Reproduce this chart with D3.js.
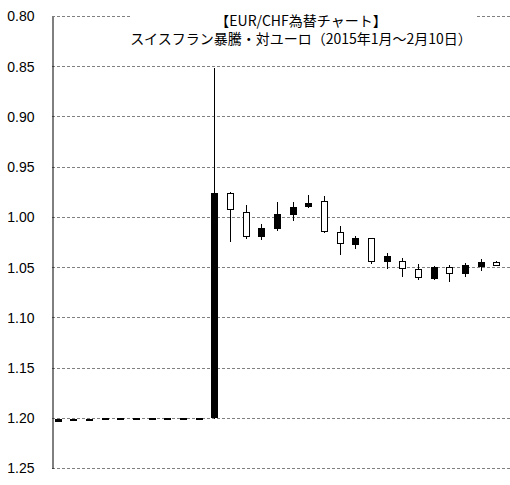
<!DOCTYPE html>
<html lang="ja">
<head>
    <meta charset="UTF-8">
    <title>EUR/CHF</title>
    <script src="https://d3js.org/d3.v7.min.js"></script>
</head>
<style>
    html, body {
        margin: 0;
        padding: 0;
        background: #fff;
    }
    svg text {
        fill: #000;
    }
</style>
<body>
<svg id="chart" width="510" height="485"></svg>

<script>
    // trading days, Jan 1 - Feb 10 2015
    var dates = ['1/1', '1/2', '1/5', '1/6', '1/7', '1/8', '1/9', '1/12', '1/13', '1/14',
        '1/15', '1/16', '1/19', '1/20', '1/21', '1/22', '1/23', '1/26', '1/27', '1/28',
        '1/29', '1/30', '2/2', '2/3', '2/4', '2/5', '2/6', '2/9', '2/10']
    var opens = [1.2035, 1.2020, 1.2018, 1.2020, 1.2020, 1.2020, 1.2020, 1.2020, 1.2020, 1.2020,
        1.2000, 0.9765, 0.9955, 1.0197, 1.0114, 0.9974, 0.9892, 0.9845, 1.0154, 1.0270,
        1.0213, 1.0446, 1.0446, 1.0522, 1.0611, 1.0502, 1.0562, 1.0496, 1.0452]
    var highs = [1.2038, 1.2028, 1.2025, 1.2022, 1.2022, 1.2022, 1.2022, 1.2022, 1.2022, 1.2022,
        1.2010, 1.0253, 1.0217, 1.0230, 1.0138, 1.0038, 0.9915, 1.0164, 1.0383, 1.0323,
        1.0469, 1.0522, 1.0596, 1.0628, 1.0628, 1.0644, 1.0602, 1.0536, 1.0482]
    var lows = [1.2018, 1.2015, 1.2010, 1.2003, 1.2003, 1.2003, 1.2003, 1.2003, 1.2003, 1.2003,
        0.8518, 0.9755, 0.9880, 1.0070, 0.9855, 0.9855, 0.9780, 0.9790, 1.0090, 1.0187,
        1.0213, 1.0362, 1.0412, 1.0472, 1.0490, 1.0480, 1.0462, 1.0419, 1.0436]
    var closes = [1.2022, 1.2022, 1.2016, 1.2005, 1.2005, 1.2005, 1.2005, 1.2005, 1.2005, 1.2005,
        0.9765, 0.9930, 1.0197, 1.0120, 0.9980, 0.9905, 0.9865, 1.0148, 1.0263, 1.0213,
        1.0446, 1.0396, 1.0512, 1.0602, 1.0502, 1.0562, 1.0486, 1.0452, 1.0479]
    var yTicks = [0.80, 0.85, 0.90, 0.95, 1.00, 1.05, 1.10, 1.15, 1.20, 1.25]
    var titleLines = ['【EUR/CHF為替チャート】', 'スイスフラン暴騰・対ユーロ（2015年1月～2月10日）']

    var svg = d3.select('#chart')
    var plotL = 52, plotR = 510, plotT = 16, plotB = 468

    var x = d3.scaleBand().domain(dates).range([50, 504])
    // axis runs upside down: 0.80 at the top
    var y = d3.scaleLinear().domain([0.80, 1.25]).range([plotT, plotB])

    // gridlines
    svg.append('g')
        .selectAll('line')
        .data(yTicks)
        .enter().append('line')
        .attr('x1', plotL)
        .attr('x2', plotR)
        .attr('y1', function (d) { return Math.round(y(d)) + 0.5 })
        .attr('y2', function (d) { return Math.round(y(d)) + 0.5 })
        .attr('stroke', '#808080')
        .attr('stroke-dasharray', '3,2')

    // y axis
    var axis = svg.append('g')
        .attr('transform', 'translate(' + (plotL + 0.5) + ',0.5)')
        .call(d3.axisLeft(y).tickValues(yTicks).tickSize(0).tickPadding(18).tickFormat(d3.format('.2f')))
    axis.select('.domain').attr('stroke', '#000')
    axis.selectAll('text')
        .attr('font-family', 'Liberation Sans, Arial, sans-serif')
        .attr('font-size', 14)
        .attr('fill', '#000')

    // candles
    var idx = d3.range(dates.length)
    var bw = 6
    var g = svg.append('g').attr('shape-rendering', 'crispEdges')
    var cx = function (i) { return Math.round(x(dates[i]) + x.bandwidth() / 2) }

    g.selectAll('line.wick')
        .data(idx)
        .enter().append('line')
        .attr('class', 'wick')
        .attr('x1', function (i) { return cx(i) + 0.5 })
        .attr('x2', function (i) { return cx(i) + 0.5 })
        .attr('y1', function (i) { return y(lows[i]) })
        .attr('y2', function (i) { return y(highs[i]) })
        .attr('stroke', '#000')

    g.selectAll('rect.body')
        .data(idx)
        .enter().append('rect')
        .attr('class', 'body')
        .attr('x', function (i) { return cx(i) - bw / 2 + 0.5 })
        .attr('width', bw)
        .attr('y', function (i) { return y(Math.min(opens[i], closes[i])) })
        .attr('height', function (i) { return Math.max(1, Math.abs(y(opens[i]) - y(closes[i]))) })
        .attr('fill', function (i) { return closes[i] > opens[i] ? '#fff' : '#000' })
        .attr('stroke', '#000')

    // title
    svg.append('rect')
        .attr('x', 132).attr('y', 4)
        .attr('width', 345).attr('height', 46)
        .attr('fill', '#fff')
    svg.append('g')
        .selectAll('text')
        .data(titleLines)
        .enter().append('text')
        .attr('x', 301)
        .attr('y', function (d, i) { return 26 + i * 18 })
        .attr('text-anchor', 'middle')
        .attr('font-family', 'Noto Sans CJK JP, sans-serif')
        .attr('font-size', 14)
        .text(function (d) { return d })
</script>
</body>
</html>
